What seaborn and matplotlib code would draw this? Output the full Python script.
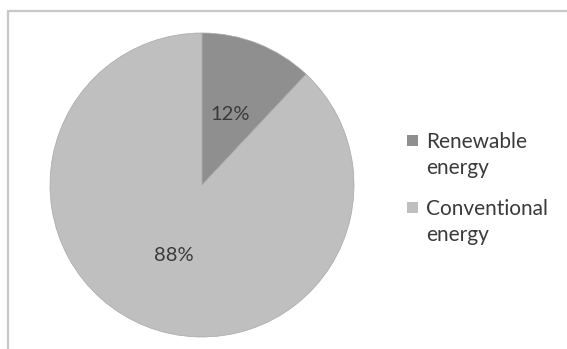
import matplotlib
matplotlib.use("Agg")
import matplotlib.pyplot as plt
import seaborn as sns
from matplotlib.patches import Rectangle

categories = ["Renewable\nenergy", "Conventional\nenergy"]
values = [12, 88]
colors = ["#8f8f8f", "#bfbfbf"]

sns.set_theme(style="white")
plt.rcParams['font.family'] = ['Lato', 'DejaVu Sans']

W, H = 567, 349
fig = plt.figure(figsize=(W / 100, H / 100), dpi=100)

# outer border (left and top visible)
fig.add_artist(Rectangle((8 / W, -0.1), 1.2, (349 - 11) / H + 0.1,
                         transform=fig.transFigure, fill=False,
                         edgecolor="#c8c8c8", linewidth=1.6))

ax = fig.add_axes([50 / W, (H - 337) / H, 304 / W, 304 / H])
wedges, texts, autotexts = ax.pie(
    values, colors=colors, startangle=90, counterclock=False,
    autopct=lambda p: f"{p:.0f}%", pctdistance=0.5,
    wedgeprops=dict(linewidth=0.5, edgecolor="#a8a8a8"),
    textprops=dict(fontsize=14.5, color="#3a3a3a"))
ax.set_xlim(-1, 1)
ax.set_ylim(-1, 1)
ax.set_aspect("equal")
ax.axis("off")

# legend (first line aligned with the marker, as in the original)
tops = [132, 199]
for lab, col, top in zip(categories, colors, tops):
    fig.add_artist(Rectangle((407 / W, 1 - (top + 14) / H), 11 / W, 11 / H,
                             transform=fig.transFigure, facecolor=col,
                             edgecolor="none"))
    fig.text(426 / W, 1 - top / H, lab, ha="left", va="top",
             fontsize=15, color="#3a3a3a", linespacing=1.35)

fig.savefig("out.png", dpi=100)
